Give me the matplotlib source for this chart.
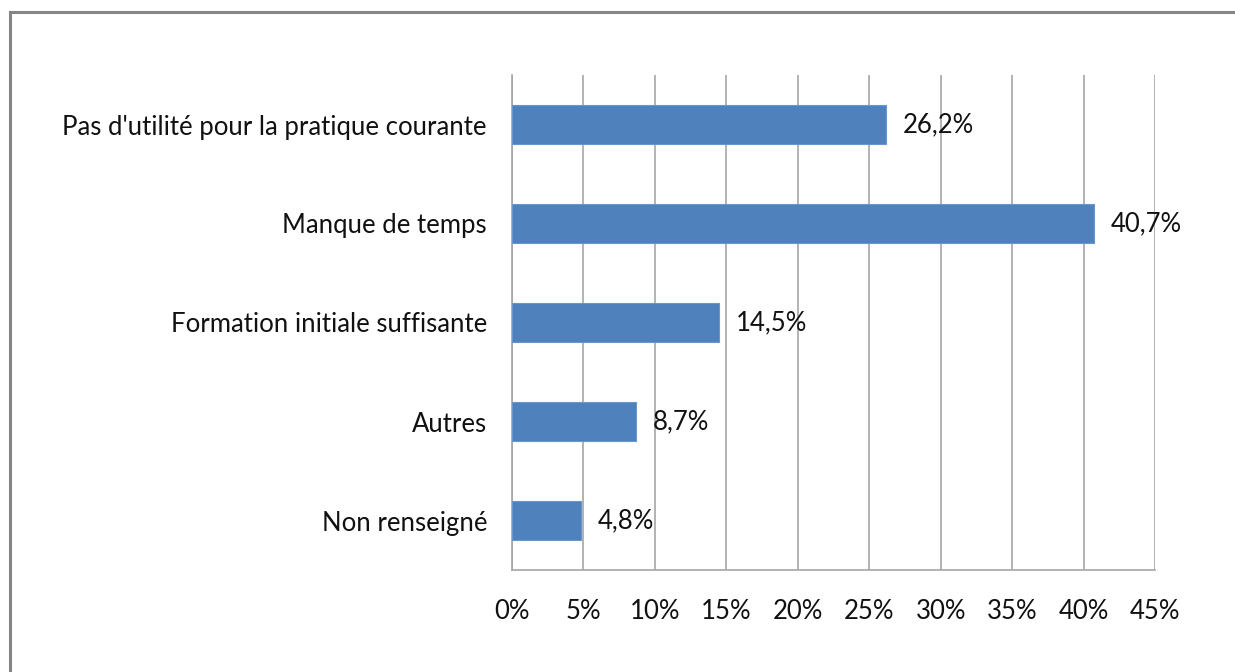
import matplotlib.pyplot as plt
from matplotlib.lines import Line2D
from matplotlib.ticker import FuncFormatter

categories = [
    "Pas d'utilité pour la pratique courante",
    "Manque de temps",
    "Formation initiale suffisante",
    "Autres",
    "Non renseigné",
]
values = [26.2, 40.7, 14.5, 8.7, 4.8]
xticks = [0, 5, 10, 15, 20, 25, 30, 35, 40, 45]

plt.rcParams["font.family"] = ["Lato", "DejaVu Sans"]

fig = plt.figure(figsize=(12.35, 6.72), dpi=100)
ax = fig.add_axes([512 / 1235, 1 - 570 / 672, (1155 - 512) / 1235, (570 - 75) / 672])

ypos = list(range(len(categories)))[::-1]
ax.barh(ypos, values, height=0.4, color="#4F81BD", edgecolor="#6B96CB", linewidth=0.8, zorder=3)

for y, v in zip(ypos, values):
    ax.annotate(f"{v:.1f}%".replace(".", ","), (v, y), xytext=(12, 0), textcoords="offset points",
                va="center", ha="left", fontsize=18.5, color="#111111")

ax.set_xlim(0, 45)
ax.set_ylim(-0.5, len(categories) - 0.5)
ax.set_xticks(xticks)
ax.xaxis.set_major_formatter(FuncFormatter(lambda x, _: f"{x:.0f}%"))
ax.set_yticks(ypos)
ax.set_yticklabels(categories)
ax.tick_params(axis="both", length=0, labelsize=18.5, colors="#111111")
ax.tick_params(axis="x", pad=21)
ax.tick_params(axis="y", pad=18)
ax.grid(axis="x", color="#A6A6A6", linewidth=1.2, zorder=0)
for s in ["top", "right"]:
    ax.spines[s].set_visible(False)
for s in ["left", "bottom"]:
    ax.spines[s].set_color("#A6A6A6")
    ax.spines[s].set_linewidth(1.2)

# outer chart frame (partly cut off in the original)
fx, fy = 10 / 1235, 1 - 12 / 672
fig.add_artist(Line2D([fx, fx], [0, fy], transform=fig.transFigure, color="#858585", linewidth=2.2))
fig.add_artist(Line2D([fx, 1], [fy, fy], transform=fig.transFigure, color="#858585", linewidth=2.2))

fig.savefig("out.png", dpi=100)
